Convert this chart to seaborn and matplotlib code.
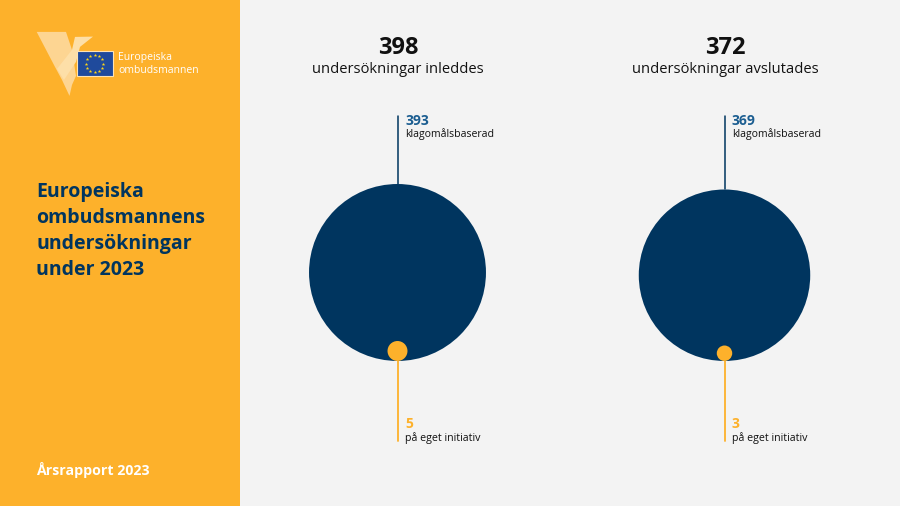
import numpy as np
import pandas as pd
import seaborn as sns
import matplotlib.pyplot as plt
from matplotlib.patches import Polygon, Rectangle

# data
totals = [398, 372]
total_labels = ['undersökningar inleddes', 'undersökningar avslutades']
complaint = [393, 369]
own_initiative = [5, 3]
complaint_label = 'klagomålsbaserad'
own_label = 'på eget initiativ'
title_lines = ['Europeiska', 'ombudsmannens', 'undersökningar', 'under 2023']
footer = 'Årsrapport 2023'
logo_lines = ['Europeiska', 'ombudsmannen']

NAVY = '#00355F'
YELLOW = '#FDB12B'
BLUE = '#1C5E91'
BG = '#F3F3F3'

sns.set_theme(style='white')
plt.rcParams['font.family'] = ['Open Sans', 'DejaVu Sans']

# axes in pixels, so the layout below can be read straight off the reference
fig = plt.figure(figsize=(9, 5.061), dpi=100, facecolor=BG)
ax = fig.add_axes([0, 0, 1, 1])

ax.add_patch(Rectangle((0, 0), 240, 506, color=YELLOW, lw=0, zorder=0))

# bubble area is proportional to the number of cases
area_per_case = 41.3
baseline = 361
centres = [397.5, 724.5]


def radius(v):
    return np.sqrt(v * area_per_case) / 2 / 0.72


rows = []
for c, big, small in zip(centres, complaint, own_initiative):
    rows.append({'x': c, 'y': baseline - radius(big), 'cases': big, 'kind': 'complaint'})
    rows.append({'x': c, 'y': baseline - radius(small), 'cases': small, 'kind': 'own'})
df = pd.DataFrame(rows)

sns.scatterplot(data=df, x='x', y='y', hue='kind', size='cases', ax=ax,
                palette={'complaint': NAVY, 'own': YELLOW},
                sizes={v: v * area_per_case for v in df['cases']},
                linewidth=0, alpha=1, legend=False, zorder=3)
ax.set_xlim(0, 900)
ax.set_ylim(506, 0)
ax.axis('off')

# leader lines and labels
for c, big, small, tot, lab in zip(centres, complaint, own_initiative, totals, total_labels):
    ax.plot([c, c], [116, baseline - 2 * radius(big)], color=NAVY, lw=1.1, zorder=2)
    ax.plot([c, c], [baseline, 441], color=YELLOW, lw=1.3, zorder=2)
    ax.text(c + 0.5, 48, str(tot), ha='center', va='center', fontsize=17, fontweight='bold', color='#111111')
    ax.text(c + 0.5, 69, lab, ha='center', va='center', fontsize=10.6, color='#111111')
    ax.text(c + 7.5, 121, str(big), va='center', fontsize=10, fontweight='bold', color=BLUE)
    ax.text(c + 7.5, 134, complaint_label, va='center', fontsize=7.6, color='#111111')
    ax.text(c + 7.5, 424, str(small), va='center', fontsize=10, fontweight='bold', color=YELLOW)
    ax.text(c + 7.5, 438, own_label, va='center', fontsize=7.7, color='#111111')

# left panel
for line, y in zip(title_lines, [192, 218, 244, 270]):
    ax.text(36, y, line, va='center', fontsize=14, fontweight='bold', color=NAVY)
ax.text(36, 470, footer, va='center', fontsize=10.2, fontweight='bold', color='white')

# logo
wing = '#FDD592'
ax.add_patch(Polygon([(36.7, 32), (66, 32), (72, 50), (76, 76), (72, 85), (69.5, 96), (62, 80), (55, 67)],
                     color=wing, lw=0, zorder=1))
ax.add_patch(Polygon([(93, 36.7), (75, 37), (72, 50), (57, 69), (64, 80), (76, 62), (80, 47)],
                     color='#FDDFA8', lw=0, zorder=1))
ax.add_patch(Rectangle((76.5, 51.5), 36, 24.5, facecolor='#1F4A9C', edgecolor='#FDE3B4', lw=0.8, zorder=2))
angles = np.arange(12) * np.pi / 6
ax.scatter(94.5 + 8.5 * np.cos(angles), 63.7 + 8.5 * np.sin(angles), marker='*', s=7,
           color='#FFD617', linewidth=0, zorder=3)
ax.text(118, 57, logo_lines[0], va='center', fontsize=7.5, color='white')
ax.text(118, 70, logo_lines[1], va='center', fontsize=7.5, color='white')

plt.savefig('out.png', dpi=100, facecolor=BG)
